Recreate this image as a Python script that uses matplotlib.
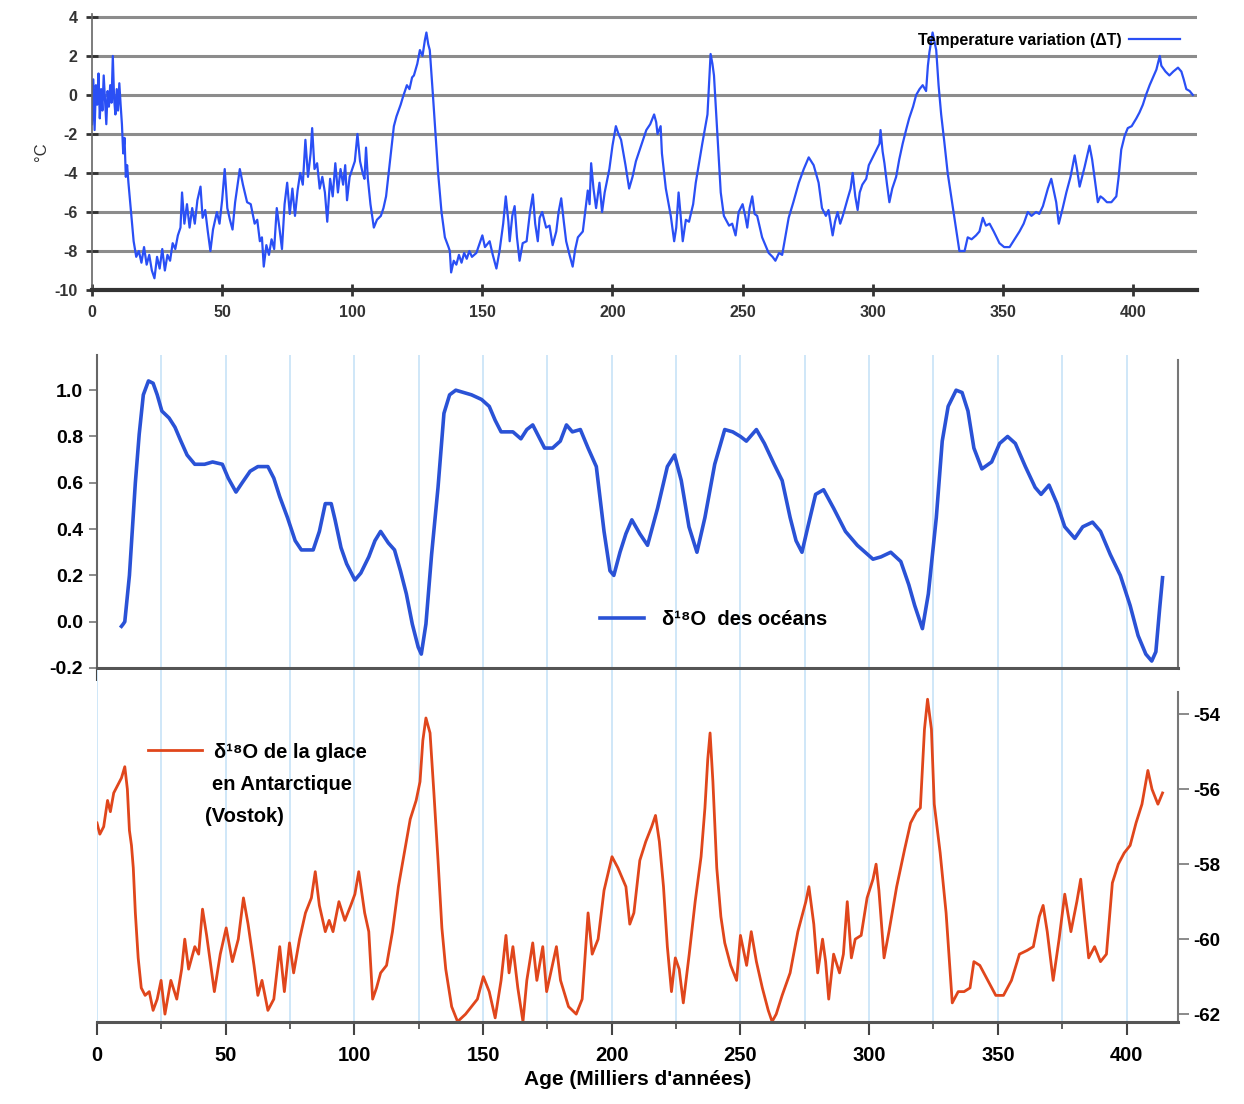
import numpy as np
import matplotlib
matplotlib.use("Agg")
import matplotlib.pyplot as plt
from matplotlib.ticker import MultipleLocator

plt.rcParams['font.family'] = ['Liberation Sans', 'DejaVu Sans']
plt.rcParams['axes.unicode_minus'] = False

# Vostok temperature variation (top panel)
temp_age = [0, 0.5, 1, 1.5, 2, 2.5, 3, 3.5, 4, 4.5, 5, 5.5, 6, 6.5, 7, 7.5, 8, 8.5, 9, 9.5,
            10, 10.5, 11, 11.5, 12, 12.5, 13, 13.5, 14, 15, 16, 17, 18, 19, 20, 21, 22, 23, 24, 25,
            26, 27, 28, 29, 30, 31, 32, 33, 34, 34.6, 35.5, 36.5, 37.5, 38.5, 39.5, 40.5, 41.7, 42.5,
            43.5, 44.5, 45.5, 46.5, 48, 49, 50, 51, 52, 53, 54, 55, 56.8, 58, 59.6, 61, 62.5, 63.5,
            64.5, 65.3, 66, 67, 68, 69, 70, 71, 72, 73, 74, 75, 76, 77, 78, 79, 80, 81, 82, 83, 84,
            84.6, 85.5, 86.5, 87.5, 88.5, 89.5, 90.4, 91.5, 92.5, 93.5, 94.5, 95.5, 96.5, 97.3, 98,
            99, 100, 101, 102, 103, 104, 104.7, 105.3, 106, 107, 108.3, 109.5, 111, 112, 113, 114,
            115, 116, 117, 118.6, 119.5, 121, 122, 123, 123.7, 125, 126, 127, 127.9, 128.5, 129.2,
            129.8, 131, 132, 133, 134.3, 135.6, 137, 137.5, 138, 139, 140, 141, 142, 143, 144, 145,
            146, 147.7, 149, 150, 151, 152.8, 154, 155.4, 156.6, 158, 159, 160, 160.5, 161.5, 162.4,
            163.3, 164.3, 165.5, 167, 168.3, 169.4, 170.3, 171.3, 172, 173, 174.5, 175.8, 177, 178.4,
            179.3, 180.3, 181.3, 182.2, 183.5, 184.7, 185.7, 186.7, 188.6, 189.5, 190.5, 191.2,
            191.8, 192.7, 193.7, 195, 196, 197, 198.8, 200, 201.3, 202.3, 203.3, 205, 206.4, 207.7,
            209, 210, 211.5, 213, 214.5, 216, 216.8, 217.3, 218.5, 219, 220.5, 222.4, 223.7, 224.5,
            225.4, 226.2, 227, 228.2, 229.4, 231, 232, 234.5, 236.5, 237.7, 238.4, 239, 240.3, 241.6,
            242.8, 244, 244.8, 246, 247.3, 248.5, 250, 251, 251.8, 252.7, 253.7, 254.6, 255.6, 257.5,
            260, 261.5, 262.6, 264, 265.2, 266.5, 267.7, 269.5, 271.6, 273.5, 275.4, 277.3, 279.2,
            280.5, 282, 283, 284.6, 285.5, 286.5, 287.5, 288.5, 290.4, 291.5, 292.3, 293.3, 294.2,
            295, 296, 297.5, 298.5, 300, 301.5, 302.6, 303, 303.8, 304.5, 305.5, 306.4, 307.5, 309,
            310.2, 311.5, 313, 314, 315.5, 316.7, 318, 319.2, 320.5, 321.2, 321.8, 323, 324.4, 325.3,
            326.3, 327.5, 328.8, 330.5, 332, 333.3, 335.3, 336.5, 338, 339.7, 341, 342.3, 343.5,
            344.9, 346.5, 348.7, 350.5, 352.6, 354.5, 356.4, 358, 359.6, 361, 362.8, 364, 365.4,
            367.3, 368.6, 370.5, 371.5, 373, 374.4, 376, 377.6, 378.5, 379.5, 381.4, 383.3, 384.3,
            385.3, 386.5, 387.5, 388.5, 390, 391.7, 393.6, 394.5, 395.5, 396.8, 398, 399.5, 401.3,
            402.5, 403.8, 405, 406.4, 407.7, 409, 410.3, 410.9, 412.5, 414, 415.5, 417.3, 418.6,
            419.5, 420.5, 421.8, 423]
temp_val = [-1.5, 0.8, -1.8, 0.5, -0.5, 1.1, -1.2, 0.3, -0.8, 1.0, -0.3, -1.5, 0.2, -0.6, 0.5,
            -0.4, 2.0, -0.2, -1.0, 0.3, -0.8, 0.6, -0.5, -1.5, -3.0, -2.2, -4.2, -3.6, -4.5, -6.0,
            -7.5, -8.3, -8.0, -8.6, -7.8, -8.7, -8.2, -9.0, -9.4, -8.3, -8.9, -7.9, -9.0, -8.2, -8.5,
            -7.6, -7.9, -7.2, -6.8, -5.0, -6.6, -5.6, -6.8, -5.8, -6.6, -5.4, -4.7, -6.3, -5.9, -7.0,
            -8.0, -6.9, -6.0, -6.6, -5.4, -3.8, -5.8, -6.4, -6.9, -5.5, -3.8, -4.6, -5.5, -5.6, -6.6,
            -6.4, -7.5, -7.3, -8.8, -7.7, -8.2, -7.4, -7.9, -5.8, -6.8, -7.9, -5.6, -4.5, -6.1, -4.8,
            -6.2, -4.9, -4.0, -4.6, -2.3, -4.2, -3.0, -1.7, -3.8, -3.5, -4.8, -4.2, -5.0, -6.5, -4.3,
            -5.2, -3.5, -5.0, -3.8, -4.6, -3.6, -5.4, -4.2, -3.8, -3.4, -2.0, -3.4, -4.0, -4.3, -2.7,
            -4.3, -5.6, -6.8, -6.4, -6.2, -5.8, -5.2, -4.0, -2.8, -1.6, -1.1, -0.5, -0.1, 0.5, 0.3,
            0.9, 1.0, 1.6, 2.3, 2.0, 2.8, 3.2, 2.6, 2.3, 0.0, -2.0, -4.0, -6.0, -7.3, -7.8, -8.0, -9.1,
            -8.5, -8.7, -8.2, -8.6, -8.1, -8.4, -8.0, -8.3, -8.1, -7.6, -7.2, -7.8, -7.5, -8.2, -8.9,
            -8.0, -6.6, -5.2, -6.5, -7.5, -6.2, -5.7, -7.3, -8.5, -7.6, -7.5, -6.0, -5.1, -6.6, -7.5,
            -6.3, -6.0, -6.8, -6.7, -7.7, -7.0, -6.0, -5.3, -6.5, -7.5, -8.2, -8.8, -7.9, -7.3, -7.0,
            -6.0, -4.9, -5.6, -3.5, -4.8, -5.8, -4.5, -6.0, -5.0, -3.8, -2.6, -1.6, -2.0, -2.3, -3.6,
            -4.8, -4.2, -3.4, -3.0, -2.4, -1.8, -1.5, -1.0, -1.4, -2.0, -1.6, -3.0, -4.8, -6.2, -7.5,
            -6.8, -5.0, -6.2, -7.5, -6.4, -6.5, -5.6, -4.5, -2.5, -1.0, 2.1, 1.6, 1.0, -2.0, -5.0,
            -6.2, -6.5, -6.7, -6.6, -7.2, -6.0, -5.6, -6.2, -6.8, -5.8, -5.2, -6.1, -6.2, -7.3, -8.1,
            -8.3, -8.5, -8.1, -8.2, -7.2, -6.3, -5.5, -4.5, -3.8, -3.2, -3.6, -4.5, -5.8, -6.2, -5.9,
            -7.2, -6.5, -6.0, -6.6, -6.2, -5.3, -4.8, -4.0, -5.2, -5.9, -5.0, -4.6, -4.3, -3.6, -3.2,
            -2.8, -2.5, -1.8, -2.9, -3.5, -4.6, -5.5, -4.8, -4.2, -3.3, -2.5, -1.7, -1.2, -0.6, 0.0,
            0.3, 0.5, 0.2, 1.5, 2.2, 3.2, 2.3, 0.5, -1.0, -2.4, -4.0, -5.5, -6.8, -8.0, -8.0, -7.3,
            -7.4, -7.2, -7.0, -6.3, -6.7, -6.6, -7.0, -7.6, -7.8, -7.8, -7.4, -7.0, -6.6, -6.0, -6.2,
            -6.0, -6.1, -5.7, -4.8, -4.3, -5.5, -6.6, -5.8, -5.0, -4.2, -3.1, -3.8, -4.7, -3.7, -2.6,
            -3.3, -4.3, -5.5, -5.2, -5.3, -5.5, -5.5, -5.2, -4.2, -2.8, -2.1, -1.7, -1.6, -1.2, -0.9,
            -0.5, 0.0, 0.5, 0.9, 1.3, 2.0, 1.5, 1.2, 1.0, 1.2, 1.4, 1.2, 0.8, 0.3, 0.2, 0.0]

# delta 18O of the oceans (middle panel)
ocean_age = [9.5, 10.2, 10.8, 12.6, 14.9, 16.4, 18, 20, 21.8, 23.4, 25.2, 28, 30.3, 32.6, 35, 38,
             41.8, 44.9, 48.7, 51, 54, 56.4, 59.5, 62.5, 66.4, 68.7, 71, 74, 77, 79.4, 84, 86.4,
             88.7, 91, 92.5, 94.8, 97, 100.2, 102.5, 105.6, 108, 110.2, 113.2, 115.6, 117.9, 120.2,
             122.5, 124.8, 126, 127.8, 130, 132.5, 134.8, 137, 139.4, 142.4, 145.5, 149.4, 152.4,
             154.7, 157, 161.6, 164.7, 167, 169.3, 171.6, 173.9, 177, 180, 182.4, 184.7, 187.8,
             190.8, 194, 197, 199.3, 200.8, 203.2, 205.5, 207.8, 210.9, 213.9, 217.8, 221.6, 224.4,
             227, 230, 233.1, 236.2, 240, 243.9, 247, 250, 252.3, 256.2, 259.3, 263.1, 266.2, 269.3,
             271.6, 273.9, 276.2, 279.2, 282.3, 286.2, 290.8, 295.4, 301.5, 304.6, 308.4, 312.3,
             315.4, 317.7, 320.7, 323, 326.1, 328.4, 330.7, 333.8, 336.1, 338.4, 340.7, 343.8, 347.6,
             350.7, 353.8, 356.8, 360.7, 364.5, 366.8, 369.9, 373, 376, 379.9, 383, 386.8, 389.9,
             393.7, 397.6, 401.4, 404.5, 407.5, 409.8, 411.4, 412.9, 414]
ocean_val = [-0.02, -0.01, 0.0, 0.2, 0.6, 0.81, 0.98, 1.04, 1.03, 0.98, 0.91, 0.88, 0.84, 0.78,
             0.72, 0.68, 0.68, 0.69, 0.68, 0.62, 0.56, 0.6, 0.65, 0.67, 0.67, 0.62, 0.54, 0.45, 0.35,
             0.31, 0.31, 0.39, 0.51, 0.51, 0.44, 0.32, 0.25, 0.18, 0.21, 0.28, 0.35, 0.39, 0.34, 0.31,
             0.22, 0.12, -0.01, -0.11, -0.14, -0.01, 0.29, 0.58, 0.9, 0.98, 1.0, 0.99, 0.98, 0.96,
             0.93, 0.87, 0.82, 0.82, 0.79, 0.83, 0.85, 0.8, 0.75, 0.75, 0.78, 0.85, 0.82, 0.83, 0.75,
             0.67, 0.39, 0.22, 0.2, 0.3, 0.38, 0.44, 0.38, 0.33, 0.49, 0.67, 0.72, 0.61, 0.41, 0.3,
             0.45, 0.68, 0.83, 0.82, 0.8, 0.78, 0.83, 0.77, 0.68, 0.61, 0.45, 0.35, 0.3, 0.41, 0.55,
             0.57, 0.49, 0.39, 0.33, 0.27, 0.28, 0.3, 0.26, 0.16, 0.07, -0.03, 0.12, 0.45, 0.78, 0.93,
             1.0, 0.99, 0.91, 0.75, 0.66, 0.69, 0.77, 0.8, 0.77, 0.67, 0.58, 0.55, 0.59, 0.51, 0.41,
             0.36, 0.41, 0.43, 0.39, 0.29, 0.2, 0.07, -0.06, -0.14, -0.17, -0.13, 0.06, 0.19]

# delta 18O of Antarctic ice, Vostok (bottom panel)
ice_age = [0, 1.1, 2.6, 4.1, 5.2, 6.5, 8, 9.5, 10.8, 11.8, 12.6, 13.4, 14.1, 14.9, 16, 17.2, 18.7,
           20.3, 21.8, 23.4, 24.9, 26.4, 28.7, 31, 32.9, 34.1, 35.6, 38, 39.5, 41, 42.6, 45.6, 47.9,
           50.2, 52.6, 54.9, 56.9, 58.7, 61, 62.5, 64.1, 66.4, 68.7, 71, 72.8, 74.8, 76.4, 78.7, 81,
           83.3, 84.8, 86.4, 88.7, 90.2, 91.7, 94, 96.3, 98.6, 100.2, 101.7, 104, 105.6, 107.1,
           108.6, 110.2, 112.5, 114.8, 117.1, 119.4, 121.7, 124, 125.5, 126.6, 127.8, 129.4, 130.9,
           132.5, 134, 135.5, 137.8, 140.1, 143.2, 145.5, 147.8, 150.1, 152.4, 154.7, 157, 158.9,
           160.1, 161.6, 163.5, 165.5, 167, 169.3, 170.9, 173.2, 174.7, 176.3, 178.5, 180.1, 183.2,
           186.2, 188.5, 190.8, 192.4, 194.7, 197, 200.1, 202.4, 205.5, 207, 208.6, 210.9, 213.2,
           215.5, 217, 218.5, 220.1, 221.6, 223.2, 224.7, 226.2, 227.8, 230.1, 232.4, 234.7, 236.2,
           237.3, 238.2, 239.3, 240.8, 242.4, 243.9, 246.2, 248.5, 250, 252.4, 254.2, 256.2, 258.5,
           260.8, 262.3, 263.9, 266.2, 269.3, 272.3, 275.4, 276.6, 278.5, 280, 281.9, 283.1, 284.3,
           286.2, 288.5, 290, 291.5, 293.1, 294.6, 296.9, 299.2, 301.5, 302.7, 303.8, 305.8, 307.7,
           310.7, 313.8, 316.1, 318.4, 319.9, 321.5, 322.7, 324.2, 325.3, 327.6, 329.9, 332.3, 334.6,
           336.9, 339.2, 340.7, 343, 346.1, 349.2, 352.2, 355.3, 358.4, 361.4, 363.8, 366.1, 367.6,
           369.2, 371.5, 373.8, 376, 378.4, 380.7, 382.2, 383.8, 385.3, 387.6, 389.9, 392.2, 394.5,
           396.8, 399.1, 401.4, 403.7, 406, 408.3, 409.9, 412.2, 414]
ice_val = [-56.9, -57.2, -57.0, -56.3, -56.6, -56.1, -55.9, -55.7, -55.4, -56.0, -57.1, -57.5,
           -58.1, -59.3, -60.5, -61.3, -61.5, -61.4, -61.9, -61.6, -61.1, -62.0, -61.1, -61.6, -60.8,
           -60.0, -60.8, -60.2, -60.4, -59.2, -59.9, -61.4, -60.4, -59.7, -60.6, -60.0, -58.9, -59.6,
           -60.7, -61.5, -61.1, -61.9, -61.6, -60.2, -61.4, -60.1, -60.9, -60.0, -59.3, -58.9, -58.2,
           -59.1, -59.8, -59.5, -59.8, -59.0, -59.5, -59.1, -58.8, -58.2, -59.3, -59.8, -61.6, -61.3,
           -60.9, -60.7, -59.8, -58.6, -57.7, -56.8, -56.3, -55.8, -54.7, -54.1, -54.5, -56.1, -57.9,
           -59.7, -60.8, -61.8, -62.2, -62.0, -61.8, -61.6, -61.0, -61.4, -62.1, -61.1, -59.9, -60.9,
           -60.2, -61.3, -62.2, -61.1, -60.1, -61.1, -60.2, -61.4, -60.9, -60.2, -61.1, -61.8, -62.0,
           -61.6, -59.3, -60.4, -60.0, -58.7, -57.8, -58.1, -58.6, -59.6, -59.3, -57.9, -57.4, -57.0,
           -56.7, -57.4, -58.6, -60.2, -61.4, -60.5, -60.8, -61.7, -60.4, -59.0, -57.8, -56.5, -55.2,
           -54.5, -55.8, -58.1, -59.4, -60.1, -60.7, -61.1, -59.9, -60.7, -59.8, -60.6, -61.3, -61.9,
           -62.2, -62.0, -61.5, -60.9, -59.8, -59.0, -58.6, -59.6, -60.9, -60.0, -60.6, -61.6, -60.4,
           -60.9, -60.4, -59.0, -60.5, -60.0, -59.9, -58.9, -58.4, -58.0, -58.7, -60.5, -59.8, -58.6,
           -57.6, -56.9, -56.6, -56.5, -54.4, -53.6, -54.4, -56.4, -57.7, -59.3, -61.7, -61.4, -61.4,
           -61.3, -60.6, -60.7, -61.1, -61.5, -61.5, -61.1, -60.4, -60.3, -60.2, -59.4, -59.1, -59.8,
           -61.1, -60.0, -58.8, -59.8, -59.0, -58.4, -59.5, -60.5, -60.2, -60.6, -60.4, -58.5, -58.0,
           -57.7, -57.5, -56.9, -56.4, -55.5, -56.0, -56.4, -56.1]

grid_ages = list(range(0, 425, 25))

fig = plt.figure(figsize=(12.44, 11.04), dpi=100)

# ---- top panel: temperature variation ----
ax1 = fig.add_axes([0.07395, 0.73732, 0.88826, 0.2500])
ax1.plot(temp_age, temp_val, color='#2a4ff5', lw=1.6, label='Temperature variation (ΔT)')
ax1.set_xlim(0, 424.6)
ax1.set_ylim(-10, 4.15)
ax1.set_yticks(range(-10, 5, 2))
ax1.set_xticks(range(0, 401, 50))
ax1.yaxis.grid(True, color='#8c8c8c', lw=2.2)
ax1.set_axisbelow(True)
for s in ['top', 'right']:
    ax1.spines[s].set_visible(False)
ax1.spines['bottom'].set_linewidth(3)
ax1.spines['bottom'].set_color('#333333')
ax1.spines['left'].set_linewidth(1.2)
ax1.spines['left'].set_color('#666666')
ax1.tick_params(axis='both', direction='inout', length=9, width=2, color='#333333',
                labelsize=11.5, labelcolor='#333333', pad=6)
for lab in ax1.get_xticklabels() + ax1.get_yticklabels():
    lab.set_fontweight('bold')
ax1.set_ylabel('°C', fontsize=12, color='#333333', labelpad=4)
ax1.legend(loc='center right', bbox_to_anchor=(0.985, 0.905), frameon=False, markerfirst=False,
           prop={'size': 11.5, 'weight': 'bold'}, handlelength=3.2, handletextpad=0.5,
           borderpad=0, borderaxespad=0)

# ---- middle panel: ocean d18O ----
ax2 = fig.add_axes([0.07797, 0.39493, 0.86897, 0.28351])
for a in grid_ages:
    ax2.axvline(a, color='#c2e0f7', lw=1.1, zorder=0)
ax2.plot(ocean_age, ocean_val, color='#2a52d6', lw=2.6, label='δ¹⁸O  des océans')
ax2.set_xlim(0, 420)
ax2.set_ylim(-0.2, 1.152)
ax2.set_yticks([-0.2, 0.0, 0.2, 0.4, 0.6, 0.8, 1.0])
ax2.set_yticklabels(['-0.2', '0.0', '0.2', '0.4', '0.6', '0.8', '1.0'])
ax2.xaxis.set_major_locator(MultipleLocator(50))
ax2.xaxis.set_minor_locator(MultipleLocator(25))
ax2.tick_params(axis='x', which='major', direction='out', length=9, width=1.5,
                color='#444444', labelbottom=False)
ax2.tick_params(axis='x', which='minor', direction='out', length=5, width=1.2, color='#444444')
ax2.tick_params(axis='y', direction='out', length=6, width=1.2, color='#777777',
                labelsize=14, pad=4)
for lab in ax2.get_yticklabels():
    lab.set_fontweight('bold')
ax2.spines['top'].set_visible(False)
ax2.spines['bottom'].set_linewidth(2.2)
ax2.spines['bottom'].set_color('#555555')
ax2.spines['left'].set_linewidth(1.5)
ax2.spines['left'].set_color('#666666')
ax2.spines['right'].set_linewidth(1.5)
ax2.spines['right'].set_color('#777777')
ax2.spines['right'].set_bounds(-0.2, 1.13)
ax2.legend(loc='center left', bbox_to_anchor=(0.465, 0.155), frameon=False,
           prop={'size': 14.5, 'weight': 'bold'}, handlelength=2.2,
           handletextpad=0.9, borderpad=0, borderaxespad=0)

# ---- bottom panel: Vostok ice d18O ----
ax3 = fig.add_axes([0.07797, 0.07428, 0.86897, 0.31884])
for a in grid_ages:
    ax3.axvline(a, color='#c2e0f7', lw=1.1, zorder=0)
ax3.plot(ice_age, ice_val, color='#e0461c', lw=2.0, label='δ¹⁸O de la glace')
ax3.set_xlim(0, 420)
ax3.set_ylim(-62.21, -52.82)
ax3.yaxis.tick_right()
ax3.set_yticks([-62, -60, -58, -56, -54])
ax3.xaxis.set_major_locator(MultipleLocator(50))
ax3.xaxis.set_minor_locator(MultipleLocator(25))
ax3.tick_params(axis='x', which='major', direction='out', length=9, width=1.5,
                color='#444444', labelsize=14.5, pad=8)
ax3.tick_params(axis='x', which='minor', direction='out', length=5, width=1.2, color='#444444')
ax3.tick_params(axis='y', direction='out', length=8, width=1.2, color='#777777',
                labelsize=13.5, pad=3)
for lab in ax3.get_xticklabels() + ax3.get_yticklabels():
    lab.set_fontweight('bold')
ax3.spines['top'].set_visible(False)
ax3.spines['left'].set_visible(False)
ax3.spines['bottom'].set_linewidth(2.2)
ax3.spines['bottom'].set_color('#555555')
ax3.spines['right'].set_linewidth(1.5)
ax3.spines['right'].set_color('#777777')
ax3.spines['right'].set_bounds(-62.21, -53.4)
ax3.set_xlabel("Age (Milliers d'années)", fontsize=15, fontweight='bold', labelpad=4)
ax3.legend(loc='center left', bbox_to_anchor=(0.047, 0.767), frameon=False,
           prop={'size': 14.5, 'weight': 'bold'}, handlelength=2.7,
           handletextpad=0.6, borderpad=0, borderaxespad=0)
ax3.text(0.1064, 0.675, 'en Antarctique', transform=ax3.transAxes, fontsize=14.5,
         fontweight='bold', va='center', ha='left')
ax3.text(0.0999, 0.585, '(Vostok)', transform=ax3.transAxes, fontsize=14.5,
         fontweight='bold', va='center', ha='left')

fig.savefig('out.png', dpi=100)
